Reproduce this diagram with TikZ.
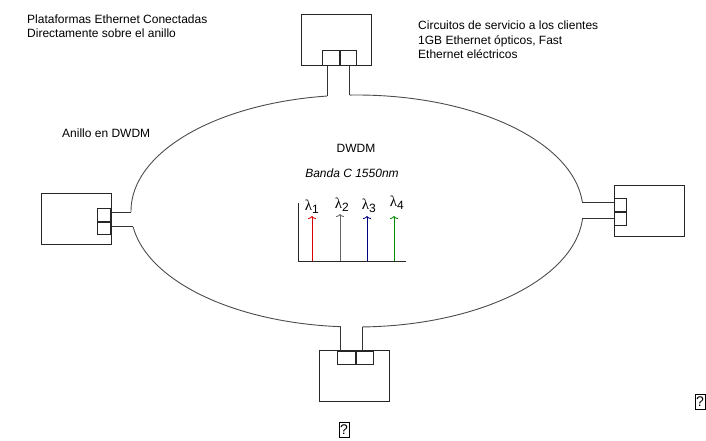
\documentclass[tikz,border=0pt]{standalone}
\usepackage{fontspec}
\setmainfont{Liberation Sans}
\newfontfamily\griega{Liberation Serif}
\usetikzlibrary{calc,positioning,arrows.meta}

\tikzset{
  equipo/.style={draw=black!85,line width=1pt,minimum width=70pt,minimum height=51pt,inner sep=0pt},
  puerto/.style={draw=black!85,line width=1pt,inner sep=0pt},
  enlace/.style={black!80,line width=1pt},
  anillo/.style={black!70,line width=0.9pt},
  texto/.style={font=\fontsize{12}{13.5}\selectfont,align=left,inner sep=0pt},
  lambda/.style={font=\fontsize{15}{16}\selectfont\griega,inner sep=0pt},
  canal/.style={line width=0.9pt,-{To[length=3pt,width=8pt]}},
  singlifo/.style={draw,line width=0.8pt,inner sep=0pt,minimum width=10pt,minimum height=15pt,font=\fontsize{14}{14}\selectfont}
}

\begin{document}
\begin{tikzpicture}[x=1pt,y=-1pt]
\useasboundingbox (0,0) rectangle (706,441);
% ring points
\coordinate (rt1) at ({357+226*cos(97.6)},{211-116*sin(97.6)});
\coordinate (rt2) at ({357+226*cos(91.8)},{211-116*sin(91.8)});
\coordinate (rb1) at ({357+226*cos(265.9)},{211-116*sin(265.9)});
\coordinate (rb2) at ({357+226*cos(271.3)},{211-116*sin(271.3)});
\coordinate (rl1) at ({357+226*cos(180.5)},{211-116*sin(180.5)});
\coordinate (rl2) at ({357+226*cos(187.9)},{211-116*sin(187.9)});
\coordinate (rr1) at ({357+226*cos(4.45)},{211-116*sin(4.45)});
\coordinate (rr2) at ({357+226*cos(-3.95)},{211-116*sin(-3.95)});
% ring
\draw[anillo] plot[domain=4.45:91.8,samples=50] ({357+226*cos(\x)},{211-116*sin(\x)});
\draw[anillo] plot[domain=97.6:180.5,samples=50] ({357+226*cos(\x)},{211-116*sin(\x)});
\draw[anillo] plot[domain=187.9:265.9,samples=50] ({357+226*cos(\x)},{211-116*sin(\x)});
\draw[anillo] plot[domain=271.3:356.05,samples=50] ({357+226*cos(\x)},{211-116*sin(\x)});
% equipment
\node[equipo] (arriba) at (336,40.5) {};
\node[puerto,minimum width=16.5pt,minimum height=15pt,anchor=south west] (arriba1) at (322,66) {};
\node[puerto,minimum width=16.5pt,minimum height=15pt,anchor=south west] (arriba2) at (arriba1.south east) {};
\node[equipo] (abajo) at (354,376) {};
\node[puerto,minimum width=17.5pt,minimum height=13pt,anchor=north west] (abajo1) at (337,351) {};
\node[puerto,minimum width=17.5pt,minimum height=13pt,anchor=north west] (abajo2) at (abajo1.north east) {};
\node[equipo] (izq) at (76,219) {};
\node[puerto,minimum width=13pt,minimum height=12.5pt,anchor=north east] (izq1) at (111,208) {};
\node[puerto,minimum width=13pt,minimum height=12.5pt,anchor=north east] (izq2) at (izq1.south east) {};
\node[equipo] (der) at (649,211) {};
\node[puerto,minimum width=12pt,minimum height=13pt,anchor=north west] (der1) at (614,198) {};
\node[puerto,minimum width=12pt,minimum height=13pt,anchor=north west] (der2) at (der1.south west) {};
% links to the ring
\draw[enlace] (rt1 |- arriba.south) -- (rt1);
\draw[enlace] (rt2 |- arriba.south) -- (rt2);
\draw[enlace] (rb1 |- abajo.north) -- (rb1);
\draw[enlace] (rb2 |- abajo.north) -- (rb2);
\draw[enlace] (rl1 -| izq.east) -- (rl1);
\draw[enlace] (rl2 -| izq.east) -- (rl2);
\draw[enlace] (rr1 -| der.west) -- (rr1);
\draw[enlace] (rr2 -| der.west) -- (rr2);
% spectrum
\coordinate (origen) at (298,261);
\draw[black!85,line width=0.9pt] (298,203) -- (origen) -- (406,261);
\node[lambda] (l1) at (312,207) {λ\textsubscript{\normalfont\fontsize{12}{12}\selectfont 1}};
\node[lambda] (l2) at (342,205) {λ\textsubscript{\normalfont\fontsize{12}{12}\selectfont 2}};
\node[lambda] (l3) at (369,206) {λ\textsubscript{\normalfont\fontsize{12}{12}\selectfont 3}};
\node[lambda] (l4) at (397,203) {λ\textsubscript{\normalfont\fontsize{12}{12}\selectfont 4}};
\draw[canal,red!85!black] (312,261) -- (312,216);
\draw[canal,black!60] (340,261) -- (340,214);
\draw[canal,blue!50!black] (367,261) -- (367,216);
\draw[canal,green!55!black] (394,261) -- (394,216);
% labels
\node[texto,anchor=north west] (plataformas) at (27,15) {Plataformas Ethernet Conectadas\\Directamente sobre el anillo};
\node[texto,anchor=north west,font=\fontsize{12}{14.5}\selectfont] (circuitos) at (418,21) {Circuitos de servicio a los clientes\\1GB Ethernet ópticos, Fast\\Ethernet eléctricos};
\node[texto,anchor=west] (anilloen) at (62,133) {Anillo en DWDM};
\node[texto] (dwdm) at (356,148) {DWDM};
\node[texto,font=\fontsize{12}{13}\selectfont\itshape] (banda) at (352,173) {Banda C 1550nm};
\node[singlifo] (q1) at (344,430) {?};
\node[singlifo] (q2) at (700,402) {?};
\end{tikzpicture}
\end{document}
